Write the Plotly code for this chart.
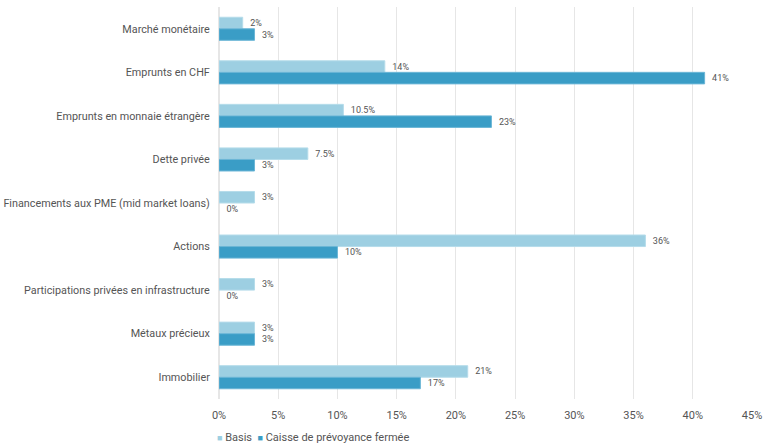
import plotly.graph_objects as go

categories = ["Marché monétaire", "Emprunts en CHF", "Emprunts en monnaie étrangère",
              "Dette privée", "Financements aux PME (mid market loans)", "Actions",
              "Participations privées en infrastructure", "Métaux précieux", "Immobilier"]
basis = [2, 14, 10.5, 7.5, 3, 36, 3, 3, 21]
caisse = [3, 41, 23, 3, 0, 10, 0, 3, 17]
series_names = ["Basis", "Caisse de prévoyance fermée"]
colors = ["#9dcfe2", "#3a9dc6"]
edge = ["#b5dcea", "#6bb6d6"]
tick_vals = [0, 5, 10, 15, 20, 25, 30, 35, 40, 45]
tick_text = [f"{v}%" for v in tick_vals]

def fmt(v):
    return "\u00a0\u00a0" + f"{v:g}%"

FONT = "Roboto"
fig = go.Figure()
for name, vals, c, e in zip(series_names, [basis, caisse], colors, edge):
    fig.add_trace(go.Bar(y=categories, x=vals, orientation="h", name=name, showlegend=False,
                         marker=dict(color=c, line=dict(color=e, width=[1 if v > 0 else 0 for v in vals])),
                         text=[fmt(v) for v in vals], textposition="outside",
                         textfont=dict(size=9, color="#555555", family=FONT), cliponaxis=False))

legend_text = "\u00a0\u00a0".join(
    f"<span style='color:{c};font-size:9px'>■</span>\u00a0{n}" for n, c in zip(series_names, colors))
fig.add_annotation(text=legend_text, xref="paper", yref="paper", x=-0.008, y=-0.097,
                   xanchor="left", yanchor="middle", showarrow=False,
                   font=dict(size=11, color="#555555", family=FONT))

fig.update_layout(
    width=770, height=447, barmode="group", bargap=0.47, bargroupgap=0,
    margin=dict(l=219, r=18, t=7, b=48, autoexpand=False),
    plot_bgcolor="white", paper_bgcolor="white", showlegend=False,
    font=dict(family=FONT, size=11, color="#555555"),
    xaxis=dict(range=[0, 45], tickvals=tick_vals, ticktext=tick_text, automargin=False,
               showgrid=True, gridcolor="#e6e6e6", gridwidth=1, zeroline=True,
               zerolinecolor="#e6e6e6", tickfont=dict(size=11, color="#555555"),
               ticks="outside", ticklen=6, tickcolor="white"),
    yaxis=dict(autorange="reversed", automargin=False, tickfont=dict(size=10.8, color="#555555"),
               ticks="outside", ticklen=6, tickcolor="white", showgrid=False),
)
fig.write_html("out.html")
